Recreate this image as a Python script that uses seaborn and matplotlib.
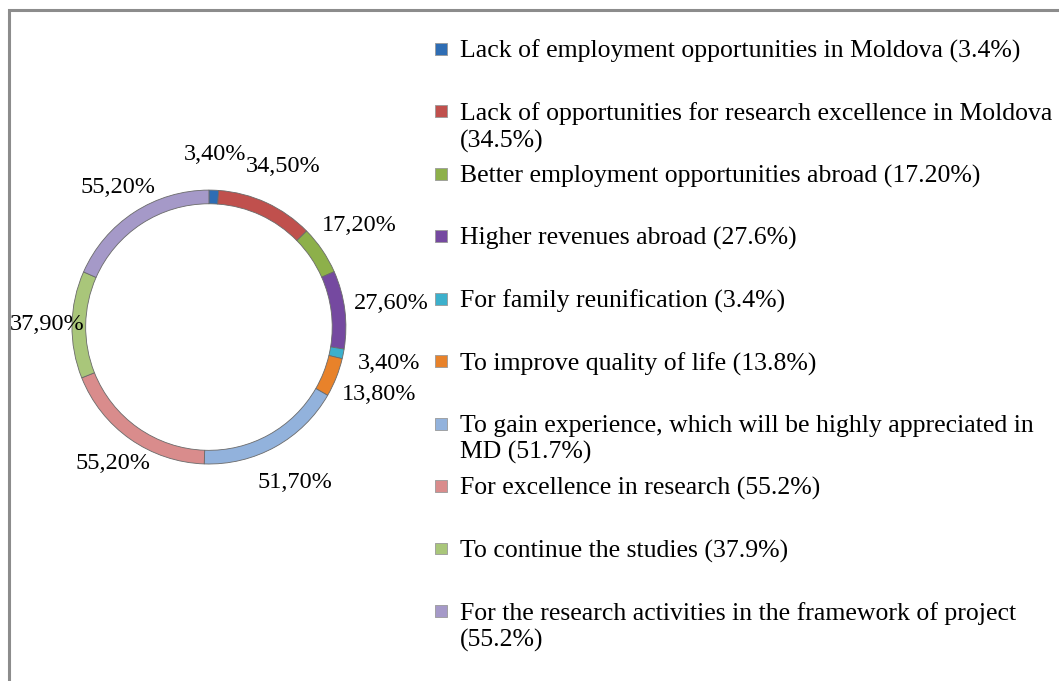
import numpy as np
import seaborn as sns
import matplotlib.pyplot as plt
from matplotlib.patches import Rectangle

# Data
reasons = [
    "Lack of employment opportunities in Moldova (3.4%)",
    "Lack of opportunities for research excellence in Moldova\n(34.5%)",
    "Better employment opportunities abroad (17.20%)",
    "Higher revenues abroad (27.6%)",
    "For family reunification (3.4%)",
    "To improve quality of life (13.8%)",
    "To gain experience, which will be highly appreciated in\nMD (51.7%)",
    "For excellence in research (55.2%)",
    "To continue the studies (37.9%)",
    "For the research activities in the framework of project\n(55.2%)",
]
shares = [3.4, 34.5, 17.2, 27.6, 3.4, 13.8, 51.7, 55.2, 37.9, 55.2]
share_labels = [f"{v:.2f}".replace(".", ",") + "%" for v in shares]

colors = ["#2E6DB4", "#C0504D", "#8DB04A", "#7549A0", "#3CB0CC",
          "#E8822A", "#92B2DC", "#D98C8C", "#A9C67A", "#A599C8"]

sns.set_theme(style="white")
plt.rcParams["font.family"] = ["Liberation Serif", "DejaVu Serif"]
plt.rcParams["text.color"] = "black"

FS = 18.5

fig = plt.figure(figsize=(10.59, 6.81), dpi=100)

# ring chart
ax = fig.add_axes([0.0033, 0.218, 0.388, 0.6035])
wedges, texts = ax.pie(
    shares, labels=share_labels, colors=colors, startangle=90,
    counterclock=False, labeldistance=1.0,
    wedgeprops=dict(width=0.1, edgecolor="#6a6a6a", linewidth=0.6),
    textprops=dict(fontsize=17.5, color="black"),
)
# labels a bit further out on the right than on the left, as in the original
for t in texts:
    x, y = t.get_position()
    ang = np.arctan2(y, x)
    r = 1.26 + 0.08 * np.cos(ang)
    t.set_position((r * np.cos(ang), r * np.sin(ang)))
    t.set_ha("center")
    t.set_va("center")
ax.set_xlim(-1.5, 1.5)
ax.set_ylim(-1.5, 1.5)
ax.set_aspect("equal")
ax.axis("off")

# legend, evenly spaced like the original
lax = fig.add_axes([441 / 1059, 0.057, 0.58, 0.917])
idx = np.arange(len(reasons))
lax.scatter(np.zeros(len(idx)), idx, marker="s", s=72, c=colors,
            edgecolors="#999999", linewidths=0.6, clip_on=False)
for i, lab in zip(idx, reasons):
    lax.annotate(lab, xy=(0, i), xytext=(13.5, 6.5), textcoords="offset points",
                 ha="left", va="top", fontsize=FS, linespacing=1.25,
                 color="black")
lax.set_xlim(0, 1)
lax.set_ylim(len(reasons) - 0.5, -0.5)
lax.axis("off")

# outer frame
fig.add_artist(Rectangle((9 / 1059, -0.05), 1.1, 1.0354, transform=fig.transFigure,
                         fill=False, edgecolor="#8c8c8c", linewidth=2.2))

fig.savefig("out.png", dpi=100)
